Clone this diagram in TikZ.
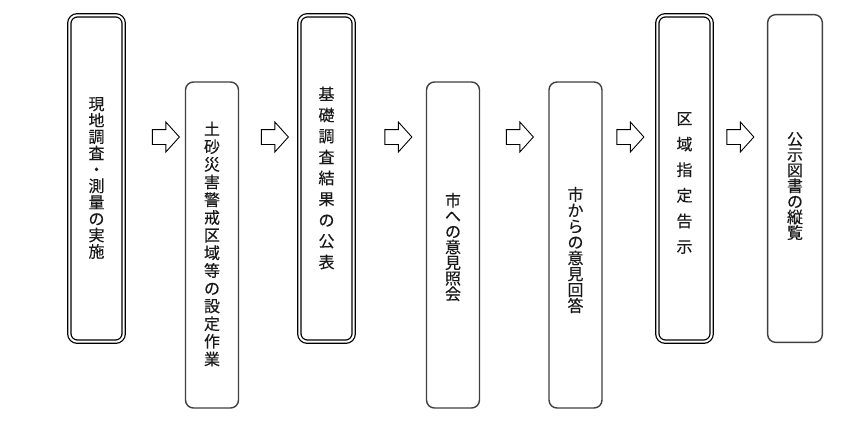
\documentclass[tikz,border=0pt]{standalone}
\usepackage{fontspec}
\newfontfamily\cjk[FakeBold=0.15]{Noto Sans CJK JP}
\usetikzlibrary{shapes.arrows}
\begin{document}
\begin{tikzpicture}[x=1pt,y=-1pt,
  singlebox/.style={draw=black!75, line width=1.4pt, rounded corners=8pt,
    minimum width=53pt, minimum height=326pt, inner sep=0pt},
  doublebox/.style={draw=black, line width=1.25pt, double=white, double distance=2pt,
    rounded corners=8pt, minimum width=54.4pt, minimum height=326.4pt, inner sep=0pt},
  blockarrow/.style={single arrow, draw=black, line width=0.9pt, fill=white,
    minimum height=27pt, minimum width=29pt, inner xsep=0pt, inner ysep=7pt,
    single arrow head extend=7.5pt, single arrow tip angle=96, anchor=center},
  vt/.style={align=center, inner sep=0pt, text=black!90},
  vpitch/.style={font=\cjk\fontsize{16}{#1}\selectfont}
]
\useasboundingbox (0,0) rectangle (858,420);
\fill[white] (0,0) rectangle (858,420);

% boxes
\node[doublebox] (b1) at (96.5,178.5) {};
\node[singlebox] (b2) at (212,245) {};
\node[doublebox] (b3) at (326.5,178.5) {};
\node[singlebox] (b4) at (453,245) {};
\node[singlebox] (b5) at (575.5,245) {};
\node[doublebox] (b6) at (684.5,178.5) {};
\node[singlebox, minimum height=327.7pt, minimum width=54.7pt] (b7) at (795,178.5) {};

% texts
\node[vt, vpitch=16.4pt] (t1) at (96.5,178) {現\\地\\調\\査\\・\\測\\量\\の\\実\\施};
\node[vt, vpitch=17.7pt] (t2) at (212,244) {土\\砂\\災\\害\\警\\戒\\区\\域\\等\\の\\設\\定\\作\\業};
\node[vt, vpitch=21pt] (t3) at (326.5,178) {基\\礎\\調\\査\\結\\果\\の\\公\\表};
\node[vt, vpitch=15.6pt] (t4) at (453,247) {市\\へ\\の\\意\\見\\照\\会};
\node[vt, vpitch=15.9pt] (t5) at (575.5,250) {市\\か\\ら\\の\\意\\見\\回\\答};
\node[vt, vpitch=25.6pt] (t6) at (684.5,183) {区\\域\\指\\定\\告\\示};
\node[vt, vpitch=15.6pt] (t7) at (795,186) {公\\示\\図\\書\\の\\縦\\覧};

% arrows
\node[blockarrow] (a1) at (162.5,137) {};
\node[blockarrow] (a2) at (271.5,137) {};
\node[blockarrow] (a3) at (395,137) {};
\node[blockarrow] (a4) at (516.5,137) {};
\node[blockarrow] (a5) at (627,137) {};
\node[blockarrow] (a6) at (737,137) {};
\end{tikzpicture}
\end{document}
